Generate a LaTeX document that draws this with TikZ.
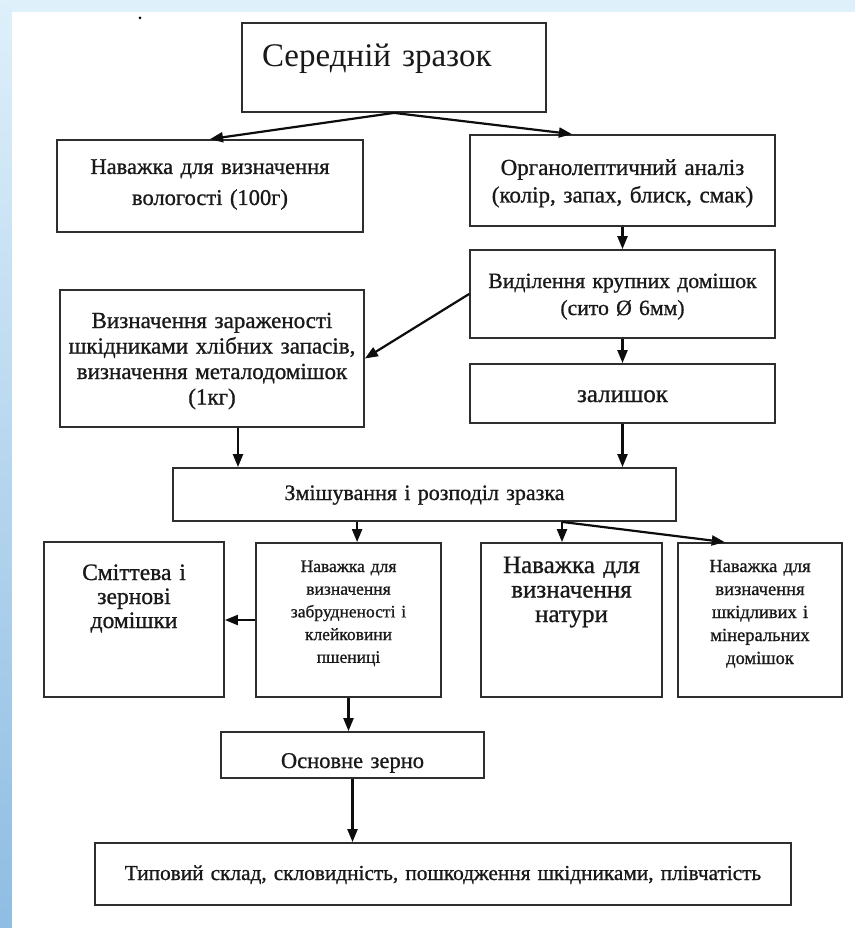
\documentclass[tikz,border=0pt]{standalone}
\usepackage{fontspec}
\setmainfont{Liberation Serif}
\newfontfamily\boxfont[FakeBold=0.9]{Liberation Serif}
\usetikzlibrary{arrows.meta,calc,positioning}

\begin{document}
\begin{tikzpicture}[x=1pt,y=-1pt,
  box/.style={draw=cv,fill=cfv,text=clv,line width=1.8pt,inner sep=0pt,align=center},
  arrowline/.style={-{Triangle[length=13pt,width=10pt]},line width=2.2pt,draw=ce}]
%
\useasboundingbox (0,0) rectangle (855,928);
%
\definecolor{cbg}{rgb}{0.87,0.94,0.98}
\definecolor{cstrip}{rgb}{0.56,0.74,0.89}
\definecolor{cv}{rgb}{0.18,0.18,0.18}
\definecolor{cfv}{rgb}{1.0,1.0,1.0}
\definecolor{clv}{rgb}{0.1,0.1,0.1}
\definecolor{ce}{rgb}{0.05,0.05,0.05}
%
\fill[cbg] (0,0) rectangle (855,928);
\shade[top color=cbg,bottom color=cstrip] (0,0) rectangle (12,928);
\fill[white] (12,12) rectangle (855,928);
%
\node[circle,fill=black,inner sep=0pt,minimum size=3pt] (dot) at (140,18) {};
%
\node[box,align=left,text width=304pt,text height=44pt,text depth=45pt,font=\fontsize{33}{38}\selectfont] (v0) at (394,67.5) {\hspace*{20pt}Середній зразок};
\node[box,text width=306pt,text height=34pt,text depth=58pt,font=\boxfont\fontsize{22.5}{31}\selectfont] (v1) at (210,186) {Наважка для визначення\\вологості (100г)};
\node[box,text width=305pt,text height=40pt,text depth=51pt,font=\boxfont\fontsize{23}{27.5}\selectfont] (v2) at (622.5,180.5) {Органолептичний аналіз\\(колір, запах, блиск, смак)};
\node[box,text width=305pt,text height=38pt,text depth=50pt,font=\boxfont\fontsize{21.7}{27}\selectfont] (v3) at (622.5,294) {Виділення крупних домішок\\(сито Ø 6мм)};
\node[box,text width=304pt,text height=38pt,text depth=99pt,font=\boxfont\fontsize{23}{25.5}\selectfont] (v4) at (212,358.5) {Визначення зараженості\\шкідниками хлібних запасів,\\визначення металодомішок\\(1кг)};
\node[box,text width=305pt,text height=38pt,text depth=21pt,font=\boxfont\fontsize{25}{28}\selectfont] (v5) at (622.5,393.5) {залишок};
\node[box,text width=503pt,text height=32pt,text depth=21pt,font=\boxfont\fontsize{22}{26}\selectfont] (v6) at (424.5,494.5) {Змішування і розподіл зразка};
\node[box,text width=180pt,text height=38pt,text depth=117pt,font=\boxfont\fontsize{23.5}{24}\selectfont] (v7) at (134,619.5) {Сміттева і\\зернові\\домішки};
\node[box,text width=185pt,text height=29pt,text depth=125pt,font=\boxfont\fontsize{17.5}{22.7}\selectfont] (v8) at (348.5,620) {Наважка для\\визначення\\забрудненості і\\клейковини\\пшениці};
\node[box,text width=181pt,text height=30pt,text depth=124pt,font=\boxfont\fontsize{25}{24.5}\selectfont] (v9) at (571.5,620) {Наважка для\\визначення\\натури};
\node[box,text width=164pt,text height=29pt,text depth=125pt,font=\boxfont\fontsize{18.5}{23}\selectfont] (v10) at (760,620) {Наважка для\\визначення\\шкідливих і\\мінеральних\\домішок};
\node[box,text width=263pt,text height=36pt,text depth=10pt,font=\boxfont\fontsize{22.5}{26}\selectfont] (v11) at (352.5,755) {Основне зерно};
\node[box,text width=696pt,text height=37pt,text depth=25pt,font=\boxfont\fontsize{21.3}{25}\selectfont] (v12) at (443,874) {Типовий склад, скловидність, пошкодження шкідниками, плівчатість};
%
\coordinate (p2) at ($(v2.north west)!0.335!(v2.north east)$);
\coordinate (p4) at ($(v4.south west)!0.585!(v4.south east)$);
\coordinate (p8) at ($(v8.north west)!0.546!(v8.north east)$);
\coordinate (p9) at ($(v9.north west)!0.448!(v9.north east)$);
\coordinate (p10) at ($(v10.north west)!0.287!(v10.north east)$);
%
\draw[arrowline] (v0.south) -- (v1.north);
\draw[arrowline] (v0.south) -- (p2);
\draw[arrowline] (v2.south) -- (v3.north);
\draw[arrowline] (v3.west) -- (v4.east);
\draw[arrowline] (v3.south) -- (v5.north);
\draw[arrowline] (p4) -- (p4 |- v6.north);
\draw[arrowline] (v5.south) -- (v5.south |- v6.north);
\draw[arrowline] (v6.south -| p8) -- (p8);
\draw[arrowline] (v6.south -| p9) -- (p9);
\draw[arrowline] (v6.south -| p9) -- (p10);
\draw[arrowline] (v8.west) -- (v8.west -| v7.east);
\draw[arrowline] (v8.south) -- (v8.south |- v11.north);
\draw[arrowline] (v11.south) -- (v11.south |- v12.north);
%
\end{tikzpicture}
\end{document}
